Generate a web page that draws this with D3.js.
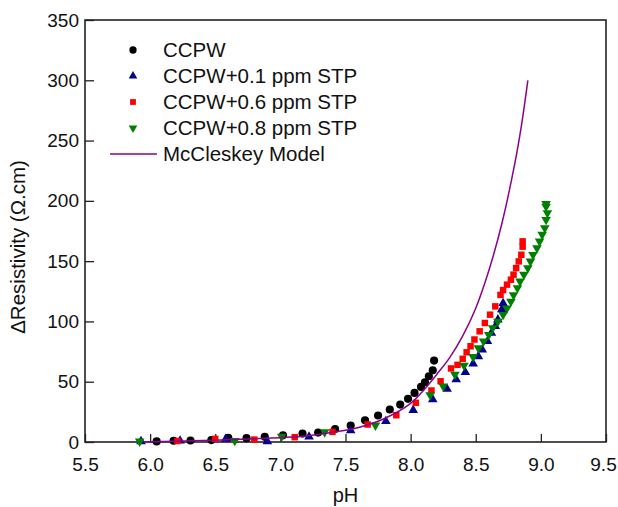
<!DOCTYPE html>
<html>
<head>
<meta charset="utf-8">
<script src="https://cdn.jsdelivr.net/npm/d3@7"></script>
<style>
  body { margin: 0; background: #fff; }
  text { font-family: Arial, "Liberation Sans", sans-serif; fill: #111; }
</style>
</head>
<body>
<svg width="618" height="507"></svg>
<script>
// data
var ccpwPH = [6.05, 6.18, 6.31, 6.47, 6.60, 6.74, 6.88, 7.02, 7.17, 7.29, 7.42, 7.54, 7.65, 7.75, 7.84, 7.92, 7.98, 8.03, 8.08, 8.11, 8.14, 8.17, 8.18];
var ccpwR  = [0.5, 1, 1.2, 1.6, 3.5, 3.2, 4.3, 5.5, 7, 7.8, 10.8, 13.7, 18, 22, 27, 31, 35.8, 40.7, 45.7, 49.6, 54.5, 59.5, 67.5];

var stp01PH = [5.93, 6.23, 6.58, 6.90, 7.22, 7.54, 7.81, 8.02, 8.17, 8.28, 8.35, 8.42, 8.48, 8.52, 8.55, 8.59, 8.62, 8.65, 8.67, 8.70, 8.71];
var stp01R  = [0.5, 1, 2.5, 0.5, 4.3, 9.5, 17.2, 26.4, 35.2, 44, 51.8, 57.8, 65, 71, 76.6, 83.5, 90.5, 96, 101.5, 110, 115];

var stp06PH = [6.21, 6.50, 6.80, 7.11, 7.40, 7.67, 7.89, 8.04, 8.16, 8.23, 8.31, 8.36, 8.40, 8.43, 8.46, 8.49, 8.53, 8.57, 8.61, 8.65, 8.69, 8.71, 8.74, 8.77, 8.79, 8.81, 8.83, 8.85, 8.86, 8.86];
var stp06R  = [0.8, 2.6, 2, 4, 8.4, 14.5, 22.2, 32.5, 42.7, 50.4, 61, 64, 69, 74.4, 79.4, 85, 91.8, 98.7, 105.6, 112.5, 122, 126, 130.5, 134.6, 138.8, 144.3, 149.8, 155.3, 162, 166.4];

var stp08PH = [5.92, 6.65, 7.01, 7.34, 7.73, 8.15, 8.25, 8.34, 8.41, 8.48, 8.52, 8.56, 8.60, 8.63, 8.67, 8.71, 8.74, 8.77, 8.79, 8.82, 8.84, 8.87, 8.90, 8.92, 8.94, 8.97, 8.99, 9.01, 9.03, 9.04, 9.05, 9.04, 9.04];
var stp08R  = [0.5, 1, 4.6, 8.2, 13.8, 39, 46.2, 56, 63.4, 70.6, 78, 83.5, 89, 94.6, 100, 105.6, 111, 116.6, 122, 127.7, 133.2, 138.8, 144.3, 149.8, 155.3, 160.9, 166.4, 172, 177.5, 184.3, 189.9, 195.3, 197.6];

var modelPH = [5.95, 6.2, 6.5, 6.8, 7.0, 7.2, 7.4, 7.6, 7.8, 8.0, 8.1, 8.2, 8.3, 8.4, 8.5, 8.6, 8.7, 8.8, 8.85, 8.9];
var modelR  = [0, 0.7, 1.5, 2.6, 3.6, 5, 8, 12, 19.5, 32, 43, 56, 70, 88, 111, 142, 181, 231, 262, 300];

var xTicks = [5.5, 6.0, 6.5, 7.0, 7.5, 8.0, 8.5, 9.0, 9.5];
var yTicks = [0, 50, 100, 150, 200, 250, 300, 350];

var seriesNames = ["CCPW", "CCPW+0.1 ppm STP", "CCPW+0.6 ppm STP", "CCPW+0.8 ppm STP", "McCleskey Model"];
var seriesColors = ["#000000", "#00008b", "#ff0000", "#008000", "#8b008b"];

var svg = d3.select("svg"),
    margin = {top: 20, right: 12, bottom: 65, left: 85},
    width = +svg.attr("width") - margin.left - margin.right,
    height = +svg.attr("height") - margin.top - margin.bottom;

var x = d3.scaleLinear().domain([5.5, 9.5]).range([0, width]),
    y = d3.scaleLinear().domain([0, 350]).range([height, 0]);

var g = svg.append("g")
    .attr("transform", "translate(" + margin.left + "," + margin.top + ")");

// axes, ticks pointing inside
var xAxis = d3.axisBottom(x).tickValues(xTicks).tickFormat(d3.format(".1f")).tickSizeInner(-8).tickSizeOuter(0).tickPadding(16);
var yAxis = d3.axisLeft(y).tickValues(yTicks).tickFormat(d3.format("d")).tickSizeInner(-9).tickSizeOuter(0).tickPadding(6);

var gx = g.append("g").attr("transform", "translate(0," + height + ")").call(xAxis);
var gy = g.append("g").call(yAxis);
[gx, gy].forEach(function(a) {
    a.select(".domain").remove();
    a.selectAll("line").attr("stroke", "#222").attr("stroke-width", 1.3);
    a.selectAll("text").style("font-size", "19px").attr("fill", "#111");
});
// last x label sits on the window edge, pull it in a little
gx.selectAll(".tick text").filter(function(d) { return d === 9.5; }).attr("dx", "-3");

g.append("rect")
    .attr("width", width).attr("height", height)
    .attr("fill", "none").attr("stroke", "#222").attr("stroke-width", 1.6);

// titles
svg.append("text")
    .attr("x", margin.left + width / 2).attr("y", 502)
    .attr("text-anchor", "middle").style("font-size", "20px")
    .text("pH");

svg.append("text")
    .attr("transform", "translate(25,247) rotate(-90)")
    .attr("text-anchor", "middle").style("font-size", "20.5px")
    .text("ΔResistivity (Ω.cm)");

// markers
var sym = [d3.symbolCircle, d3.symbolTriangle, d3.symbolSquare, d3.symbolTriangle];
var symSize = [52, 40, 42, 40];
var symRot = [0, 0, 0, 180];

function drawPoints(xs, ys, i) {
    var pts = xs.map(function(v, k) { return [v, ys[k]]; });
    g.append("g").selectAll("path")
        .data(pts)
        .enter().append("path")
        .attr("d", d3.symbol().type(sym[i]).size(symSize[i]))
        .attr("transform", function(d) {
            return "translate(" + x(d[0]) + "," + y(d[1]) + ") rotate(" + symRot[i] + ")";
        })
        .attr("fill", seriesColors[i]);
}

drawPoints(ccpwPH, ccpwR, 0);
drawPoints(stp01PH, stp01R, 1);
drawPoints(stp06PH, stp06R, 2);
drawPoints(stp08PH, stp08R, 3);

var line = d3.line()
    .curve(d3.curveCatmullRom)
    .x(function(d) { return x(d[0]); })
    .y(function(d) { return y(d[1]); });

g.append("path")
    .datum(modelPH.map(function(v, k) { return [v, modelR[k]]; }))
    .attr("fill", "none")
    .attr("stroke", seriesColors[4])
    .attr("stroke-width", 1.5)
    .attr("d", line);

// legend
var legend = svg.append("g").attr("transform", "translate(133,50)");
seriesNames.forEach(function(name, i) {
    var row = legend.append("g").attr("transform", "translate(0," + (i * 26) + ")");
    if (i < 4) {
        row.append("path")
            .attr("d", d3.symbol().type(sym[i]).size(symSize[i] * 0.8))
            .attr("transform", "rotate(" + symRot[i] + ")")
            .attr("fill", seriesColors[i]);
    } else {
        row.append("line")
            .attr("x1", -23).attr("x2", 24)
            .attr("stroke", seriesColors[i]).attr("stroke-width", 1.5);
    }
    row.append("text")
        .attr("x", 30).attr("dy", "0.35em")
        .style("font-size", "20.5px")
        .text(name);
});
</script>
</body>
</html>
